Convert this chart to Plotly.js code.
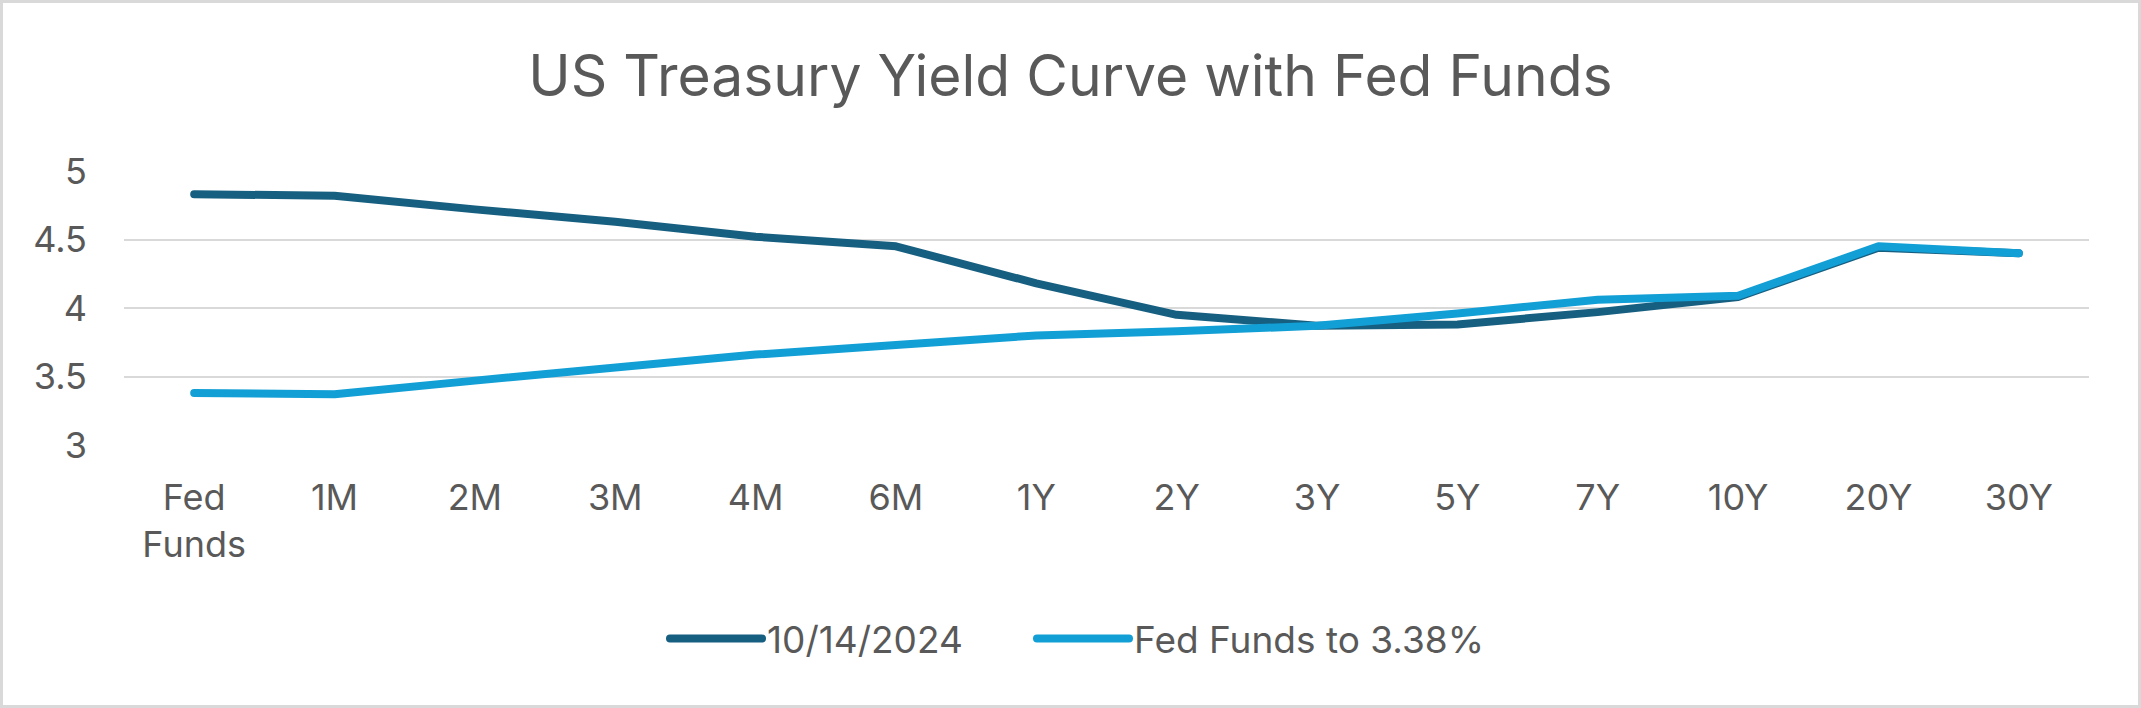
<!DOCTYPE html>
<html>
<head>
<meta charset="utf-8">
<script src="https://cdn.plot.ly/plotly-3.0.1.min.js"></script>
<style>
  html, body { margin: 0; padding: 0; background: #fff; }
  #wrap { width: 2141px; height: 708px; box-sizing: border-box; border: 3px solid #d9d9d9; background: #fff; }
  #chart { width: 2135px; height: 702px; }
  .scatterlayer .js-line, .legendlines path { stroke-linecap: round; stroke-linejoin: round; }
</style>
</head>
<body>
<div id="wrap"><div id="chart"></div></div>
<script>
const categories = ["Fed<br>Funds", "1M", "2M", "3M", "4M", "6M", "1Y", "2Y", "3Y", "5Y", "7Y", "10Y", "20Y", "30Y"];
const current = [4.83, 4.82, 4.72, 4.63, 4.52, 4.45, 4.18, 3.95, 3.87, 3.88, 3.97, 4.08, 4.44, 4.40];
const fedFundsCut = [3.38, 3.37, 3.47, 3.57, 3.66, 3.73, 3.80, 3.83, 3.87, 3.96, 4.06, 4.09, 4.45, 4.40];
const seriesNames = ["10/14/2024", "Fed Funds to 3.38%"];
const yTicks = [3, 3.5, 4, 4.5, 5];
const yTickText = ["3", "3.5", "4", "4.5", "5"];

const FONT = "Inter, Roboto, 'Open Sans', sans-serif";
const TXT = "#595959";

const traces = [
  { x: categories, y: current, type: "scatter", mode: "lines", name: seriesNames[0], legend: "legend",
    line: { color: "#175f80", width: 8 }, hoverinfo: "x+y" },
  { x: categories, y: fedFundsCut, type: "scatter", mode: "lines", name: seriesNames[1], legend: "legend2",
    line: { color: "#129fd6", width: 8 }, hoverinfo: "x+y" }
];

const legendBase = {
  orientation: "h", xref: "container", yref: "container", xanchor: "left",
  y: 1 - 636/702, yanchor: "middle", font: { family: FONT, size: 37, color: TXT },
  itemwidth: 92, bgcolor: "rgba(0,0,0,0)"
};

const layout = {
  width: 2135, height: 702,
  paper_bgcolor: "#fff", plot_bgcolor: "#fff",
  margin: { l: 121, r: 49, t: 168, b: 260 },
  font: { family: FONT, color: TXT, size: 36 },
  title: { text: "US Treasury Yield Curve with Fed Funds", font: { family: FONT, size: 57, color: TXT },
    x: 0.5, xanchor: "center", xref: "container", y: 1 - 73/702, yanchor: "middle", yref: "container" },
  xaxis: { type: "category", range: [-0.5, 13.5], showgrid: false, zeroline: false, showline: false,
    ticks: "", tickfont: { family: FONT, size: 36, color: TXT }, ticklabelstandoff: 28, fixedrange: true },
  yaxis: { range: [3, 5], tickvals: yTicks, ticktext: yTickText, showgrid: true, gridcolor: "#d9d9d9", gridwidth: 2,
    zeroline: false, showline: false, ticks: "", tickfont: { family: FONT, size: 36, color: TXT },
    ticklabelstandoff: 36, fixedrange: true },
  showlegend: true,
  legend: Object.assign({}, legendBase, { x: (665 - 3) / 2135 }),
  legend2: Object.assign({}, legendBase, { x: (1032 - 3) / 2135 }),
  hovermode: false
};

Plotly.newPlot("chart", traces, layout, { displayModeBar: false, staticPlot: true });
</script>
</body>
</html>
